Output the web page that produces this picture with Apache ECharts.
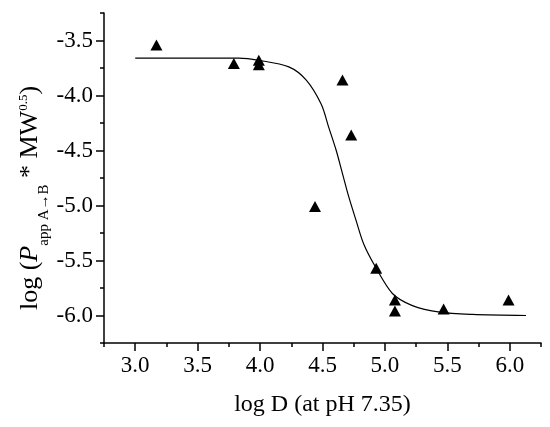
<!DOCTYPE html>
<html>
<head>
<meta charset="utf-8">
<script src="https://cdn.jsdelivr.net/npm/echarts@6/dist/echarts.min.js"></script>
<style>
  html, body { margin: 0; padding: 0; background: #fff; }
  #chart { width: 550px; height: 427px; }
</style>
</head>
<body>
<div id="chart"></div>
<script>
// tick labels
var xTicks = [3.0, 3.5, 4.0, 4.5, 5.0, 5.5, 6.0];
var yTicks = [-6.0, -5.5, -5.0, -4.5, -4.0, -3.5];

// measured points: log D vs log(Papp * MW^0.5)
var logD = [3.17, 3.79, 3.99, 3.99, 4.66, 4.73, 4.44, 4.93, 5.08, 5.08, 5.47, 5.99];
var logPapp = [-3.54, -3.71, -3.68, -3.72, -3.86, -4.36, -5.01, -5.57, -5.86, -5.96, -5.94, -5.86];

// fitted curve
var fitX = [3.0, 3.83, 3.99, 4.23, 4.37, 4.49, 4.55, 4.61, 4.66, 4.71, 4.77, 4.83, 4.92, 5.06, 5.22, 5.44, 5.70, 6.13];
var fitY = [-3.66, -3.66, -3.68, -3.74, -3.86, -4.08, -4.29, -4.50, -4.71, -4.92, -5.14, -5.35, -5.55, -5.80, -5.91, -5.97, -5.99, -6.0];

var font = 'Liberation Serif';

var chart = echarts.init(document.getElementById('chart'));

var points = logD.map(function (x, i) { return [x, logPapp[i]]; });
var curve = fitX.map(function (x, i) { return [x, fitY[i]]; });

function fmt(v) { return v.toFixed(1); }

chart.setOption({
    animation: false,
    backgroundColor: '#fff',
    grid: { left: 104, right: 9, top: 13, bottom: 84 },
    xAxis: [
        {
            type: 'value', min: 2.75, max: 6.25, interval: 0.25,
            name: 'log D (at pH 7.35)', nameLocation: 'middle', nameGap: 50,
            nameTextStyle: { fontFamily: font, fontSize: 24, color: '#000' },
            axisLine: { lineStyle: { color: '#000', width: 1.5 } },
            axisTick: { length: 4, lineStyle: { color: '#000', width: 1.5 } },
            axisLabel: { customValues: xTicks, formatter: fmt, margin: 11, fontFamily: font, fontSize: 23, color: '#000' },
            splitLine: { show: false }
        },
        {
            type: 'value', min: 2.75, max: 6.25, position: 'bottom',
            axisLine: { show: false },
            axisTick: { customValues: xTicks, length: 8, lineStyle: { color: '#000', width: 1.5 } },
            axisLabel: { show: false },
            splitLine: { show: false }
        }
    ],
    yAxis: [
        {
            type: 'value', min: -6.25, max: -3.25, interval: 0.25,
            axisLine: { lineStyle: { color: '#000', width: 1.5 } },
            axisTick: { length: 4, lineStyle: { color: '#000', width: 1.5 } },
            axisLabel: { customValues: yTicks, formatter: fmt, margin: 11, fontFamily: font, fontSize: 23, color: '#000' },
            splitLine: { show: false }
        },
        {
            type: 'value', min: -6.25, max: -3.25, position: 'left',
            axisLine: { show: false },
            axisTick: { customValues: yTicks, length: 8, lineStyle: { color: '#000', width: 1.5 } },
            axisLabel: { show: false },
            splitLine: { show: false }
        }
    ],
    graphic: [{
        type: 'text',
        x: 30, y: 198,
        rotation: Math.PI / 2,
        style: {
            text: '{n|log (}{i|P}{s|app A\u2192B}{n| * MW}{p|0.5}{n|)}',
            align: 'center',
            verticalAlign: 'middle',
            fill: '#000',
            rich: {
                n: { fontFamily: font, fontSize: 26, lineHeight: 44, color: '#000' },
                i: { fontFamily: font, fontSize: 26, lineHeight: 44, fontStyle: 'italic', color: '#000' },
                s: { fontFamily: font, fontSize: 15, verticalAlign: 'bottom', color: '#000' },
                p: { fontFamily: font, fontSize: 13, padding: [9, 0, 0, 0], verticalAlign: 'top', color: '#000' }
            }
        }
    }],
    series: [
        {
            type: 'line',
            data: curve,
            smooth: 0.3,
            showSymbol: false,
            lineStyle: { color: '#000', width: 1.2 },
            z: 2
        },
        {
            type: 'scatter',
            data: points,
            symbol: 'triangle',
            symbolSize: [12, 11],
            itemStyle: { color: '#000', opacity: 1 },
            z: 3
        }
    ]
});
</script>
</body>
</html>
